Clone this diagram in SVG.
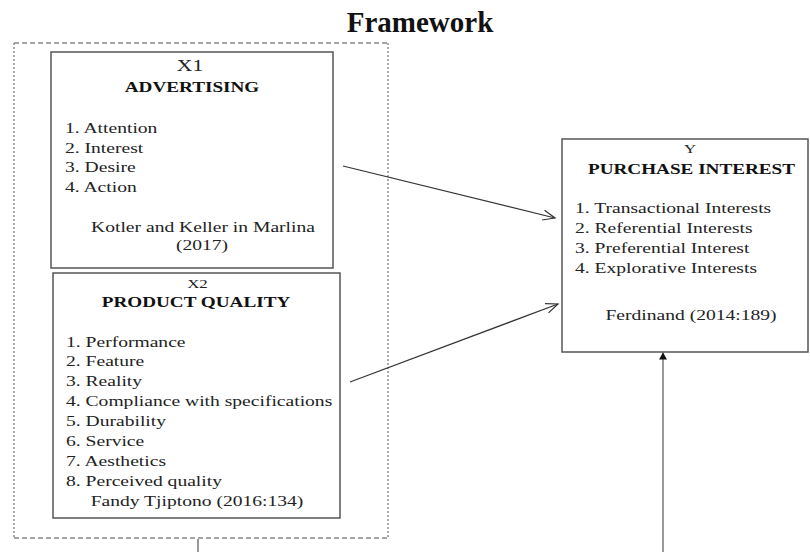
<svg xmlns="http://www.w3.org/2000/svg" width="810" height="552" viewBox="0 0 810 552">
<style>
.box{fill:#fff;stroke:#555;stroke-width:1.5}
.t{font-family:"Liberation Serif","Times New Roman",serif;font-size:14.5px;fill:#222}
.h{font-family:"Liberation Serif","Times New Roman",serif;font-size:14.2px;font-weight:bold;fill:#111}
.v{font-family:"Liberation Serif","Times New Roman",serif;font-size:12.5px;fill:#222}
.c{text-anchor:middle}
.conn{stroke:#333;stroke-width:1.2;fill:none}
.dashH{stroke:#888;stroke-width:1.4;stroke-dasharray:5 3;fill:none}
.dashV{stroke:#888;stroke-width:1.4;stroke-dasharray:2 2;fill:none}
</style>
<defs>
<marker id="open" markerWidth="14" markerHeight="12" refX="12" refY="6" orient="auto" markerUnits="userSpaceOnUse">
<path d="M0,1 L12,6 L0,11" fill="none" stroke="#333" stroke-width="1.2"/>
</marker>
<marker id="fill" markerWidth="8" markerHeight="8" refX="7" refY="4" orient="auto" markerUnits="userSpaceOnUse">
<path d="M0,0 L7,4 L0,8 Z" fill="#111"/>
</marker>
</defs>
<rect width="810" height="552" fill="#fff"/>
<text x="420" y="32" class="c" style="font-family:'Liberation Serif','Times New Roman',serif;font-size:29px;font-weight:bold;fill:#111">Framework</text>

<g id="group">
<line class="dashH" x1="14" y1="43" x2="388" y2="43"/>
<line class="dashH" x1="14" y1="538" x2="388" y2="538"/>
<line class="dashV" x1="14" y1="43" x2="14" y2="538"/>
<line class="dashV" x1="388" y1="43" x2="388" y2="538"/>
</g>

<g id="x1">
<rect class="box" x="51" y="52" width="282" height="216"/>
<text class="c" transform="translate(190 71) scale(1.35 1)" style="font-family:'Liberation Serif','Times New Roman',serif;font-size:16px;fill:#222">X1</text>
<text class="h c" transform="translate(192 92) scale(1.35 1)">ADVERTISING</text>
<text class="t" transform="translate(65 133) scale(1.35 1)">
<tspan x="0" y="0">1. Attention</tspan>
<tspan x="0" y="19.7">2. Interest</tspan>
<tspan x="0" y="39.3">3. Desire</tspan>
<tspan x="0" y="59">4. Action</tspan>
</text>
<text class="t c" transform="translate(203 232) scale(1.35 1)">Kotler and Keller in Marlina</text>
<text class="t c" transform="translate(202 250) scale(1.35 1)">(2017)</text>
</g>

<g id="x2">
<rect class="box" x="53" y="273" width="287" height="245"/>
<text class="v c" transform="translate(197.5 288) scale(1.35 1)">X2</text>
<text class="h c" transform="translate(196 307) scale(1.35 1)">PRODUCT QUALITY</text>
<text class="t" transform="translate(66 346.5) scale(1.35 1)">
<tspan x="0" y="0">1. Performance</tspan>
<tspan x="0" y="20">2. Feature</tspan>
<tspan x="0" y="40">3. Reality</tspan>
<tspan x="0" y="60">4. Compliance with specifications</tspan>
<tspan x="0" y="80">5. Durability</tspan>
<tspan x="0" y="99.5">6. Service</tspan>
<tspan x="0" y="119.5">7. Aesthetics</tspan>
<tspan x="0" y="139.5">8. Perceived quality</tspan>
</text>
<text class="t c" transform="translate(197 506) scale(1.35 1)">Fandy Tjiptono (2016:134)</text>
</g>

<g id="y">
<rect class="box" x="562" y="139" width="246" height="213"/>
<text class="v c" transform="translate(690 153) scale(1.35 1)">Y</text>
<text class="h c" transform="translate(691.5 174) scale(1.35 1)">PURCHASE INTEREST</text>
<text class="t" transform="translate(575 213.3) scale(1.35 1)">
<tspan x="0" y="0">1. Transactional Interests</tspan>
<tspan x="0" y="20">2. Referential Interests</tspan>
<tspan x="0" y="39.7">3. Preferential Interest</tspan>
<tspan x="0" y="59.4">4. Explorative Interests</tspan>
</text>
<text class="t c" transform="translate(691 320) scale(1.35 1)">Ferdinand (2014:189)</text>
</g>

<g id="connectors">
<line class="conn" x1="343" y1="166" x2="555" y2="218" marker-end="url(#open)"/>
<line class="conn" x1="350" y1="382" x2="558" y2="304" marker-end="url(#open)"/>
<line class="conn" x1="663" y1="552" x2="663" y2="352.5" marker-end="url(#fill)" style="stroke:#555"/>
<line class="conn" x1="198" y1="539" x2="198" y2="552" style="stroke:#555"/>
</g>
</svg>
